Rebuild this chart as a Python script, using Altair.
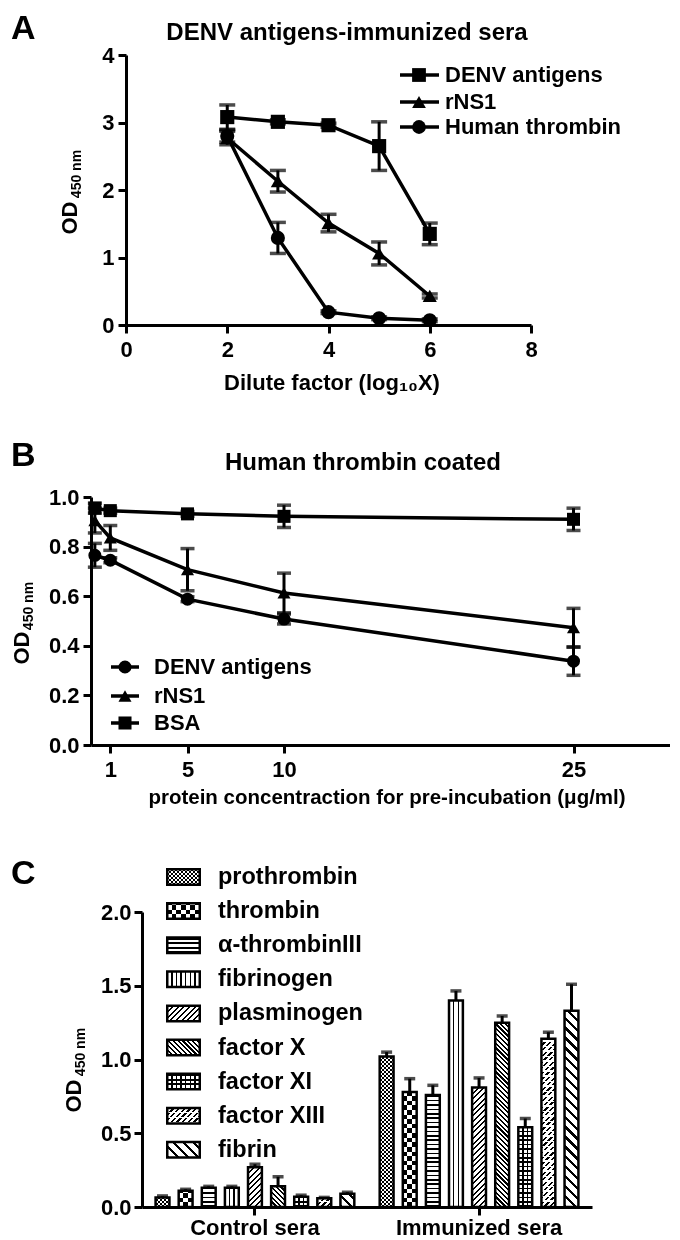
import altair as alt
import pandas as pd
import numpy as np

FONT = "Liberation Sans"

# ---------------- Panel A data ----------------
a_x = [2, 3, 4, 5, 6]
a_series = ["DENV antigens", "rNS1", "Human thrombin"]
a_shapes = ["square", "triangle-up", "circle"]
a_denv = [3.08, 3.01, 2.96, 2.65, 1.35]
a_denv_err = [0.18, 0.03, 0.03, 0.36, 0.16]
a_rns1 = [2.77, 2.13, 1.51, 1.06, 0.43]
a_rns1_err = [0.10, 0.16, 0.13, 0.17, 0.03]
a_thr = [2.80, 1.29, 0.19, 0.10, 0.07]
a_thr_err = [0.09, 0.23, 0.02, 0.02, 0.02]
a_xticks = [0, 2, 4, 6, 8]
a_yticks = [0, 1, 2, 3, 4]

# ---------------- Panel B data ----------------
b_x = [0.2, 1, 5, 10, 25]
b_series = ["DENV antigens", "rNS1", "BSA"]
b_shapes = ["circle", "triangle-up", "square"]
b_denv = [0.765, 0.745, 0.588, 0.508, 0.338]
b_denv_err = [0.048, 0.01, 0.01, 0.02, 0.057]
b_rns1 = [0.905, 0.835, 0.707, 0.613, 0.473]
b_rns1_err = [0.05, 0.05, 0.085, 0.08, 0.078]
b_bsa = [0.955, 0.945, 0.932, 0.922, 0.910]
b_bsa_err = [0.02, 0.01, 0.01, 0.045, 0.045]
b_xticks = [1, 5, 10, 25]
b_yticks = [0.0, 0.2, 0.4, 0.6, 0.8, 1.0]

# ---------------- Panel C data ----------------
c_groups = ["Control sera", "Immunized sera"]
c_proteins = ["prothrombin", "thrombin", "α-thrombinIII", "fibrinogen", "plasminogen",
              "factor X", "factor XI", "factor XIII", "fibrin"]
c_control = [0.065, 0.11, 0.13, 0.13, 0.27, 0.14, 0.07, 0.06, 0.09]
c_control_err = [0.01, 0.01, 0.01, 0.01, 0.02, 0.065, 0.01, 0.005, 0.01]
c_immune = [1.02, 0.78, 0.76, 1.40, 0.81, 1.25, 0.54, 1.14, 1.33]
c_immune_err = [0.03, 0.09, 0.065, 0.065, 0.065, 0.045, 0.06, 0.045, 0.18]
c_yticks = [0.0, 0.5, 1.0, 1.5, 2.0]

DUMMY = pd.DataFrame({"k": [0]})
PADW = 3  # width of the invisible left pad of each row


def long_df(xs, names, vals, errs):
    rows = []
    for si, (n, v, e) in enumerate(zip(names, vals, errs)):
        for x, vi, ei in zip(xs, v, e):
            rows.append({"x": x, "y": vi, "lo": vi - ei, "hi": vi + ei, "series": n, "sid": si})
    return pd.DataFrame(rows)


def ax(values=None, fmt=None, tick=8, pad=5, size=21):
    d = dict(title=None, tickSize=tick, labelPadding=pad, labelFontSize=size, labelFont=FONT,
             labelFontWeight="bold", labelColor="black", domainColor="black", domainWidth=3,
             tickColor="black", tickWidth=3, grid=False, labelFlush=False, labelOverlap=False,
             labelAngle=0)
    if values is not None:
        d["values"] = values
    if fmt:
        d["format"] = fmt
    return alt.Axis(**d)


def txt(s, x, y, size=21, align="center", baseline="middle", angle=0, weight="bold"):
    return alt.Chart(DUMMY).mark_text(text=s, font=FONT, fontSize=size, fontWeight=weight,
                                      align=align, baseline=baseline, angle=angle,
                                      color="black").encode(x=alt.value(x), y=alt.value(y))


def spacer(y):
    return alt.Chart(DUMMY).mark_rule(opacity=0, strokeWidth=0.5).encode(
        x=alt.value(0), x2=alt.value(2), y=alt.value(y))


def left_pad():
    return alt.Chart(DUMMY).mark_rule(opacity=0, strokeWidth=0.5).encode(
        x=alt.value(0), x2=alt.value(PADW), y=alt.value(0)).properties(width=PADW, height=1)


def legend_item(label, shape, xm, xl0, xl1, xt, y, size=190, fsize=22):
    seg = alt.Chart(DUMMY).mark_rule(color="black", strokeWidth=3.5).encode(
        x=alt.value(xl0), x2=alt.value(xl1), y=alt.value(y))
    pt = alt.Chart(DUMMY).mark_point(shape=shape, filled=True, opacity=1, color="black",
                                     size=size).encode(x=alt.value(xm), y=alt.value(y))
    return [seg, pt, txt(label, xt, y, size=fsize, align="left")]


def ytitle(x_od, y_od, x_sub, y_sub):
    return [txt("OD", x_od, y_od, size=22, angle=270),
            txt("450 nm", x_sub, y_sub, size=14, angle=270)]


def line_panel(df, shapes, xdom, xticks, ydom, yticks, yfmt, msize, capw):
    X = alt.X("x:Q", scale=alt.Scale(domain=xdom, nice=False, zero=False),
              axis=ax(xticks, tick=8, pad=6, size=22))

    def Y(f):
        return alt.Y(f, scale=alt.Scale(domain=ydom, nice=False),
                     axis=ax(yticks, fmt=yfmt, tick=8, pad=4, size=22))
    base = alt.Chart(df)
    out = [
        base.mark_line(color="black", strokeWidth=3.5).encode(x=X, y=Y("y:Q"), detail="series:N"),
        base.mark_rule(color="black", strokeWidth=3).encode(x=X, y=Y("lo:Q"), y2="hi:Q"),
        base.mark_tick(orient="horizontal", color="black", size=capw, thickness=3.5).encode(x=X, y=Y("hi:Q")),
        base.mark_tick(orient="horizontal", color="black", size=capw, thickness=3.5).encode(x=X, y=Y("lo:Q")),
    ]
    for si, shp in enumerate(shapes):
        out.append(base.transform_filter(alt.datum.sid == si)
                   .mark_point(shape=shp, filled=True, opacity=1, color="black", size=msize)
                   .encode(x=X, y=Y("y:Q")))
    return out


# ---------------- Panel A ----------------
WA, HA = 405, 270
dfa = long_df(a_x, a_series, [a_denv, a_rns1, a_thr], [a_denv_err, a_rns1_err, a_thr_err])
layersA = line_panel(dfa, a_shapes, [0, 8], a_xticks, [0, 4], a_yticks, "d", 200, 16)
for i, (lab, shp) in enumerate(zip(a_series, a_shapes)):
    layersA += legend_item(lab, shp, 293, 274, 313, 319, [20, 47, 72][i])
layersA += [txt("A", -(126 - 8 - PADW), -43, size=34, align="left", baseline="top"),
            txt("DENV antigens-immunized sera", 221, -22, size=24),
            txt("Dilute factor (log₁₀X)", 206, 328, size=22),
            spacer(-47), spacer(360)]
layersA += ytitle(-56, 163, -49, 119)
chartA = alt.layer(*layersA).properties(width=WA, height=HA)

# ---------------- Panel B ----------------
WB, HB = 579, 248
dfb = long_df(b_x, b_series, [b_denv, b_rns1, b_bsa], [b_denv_err, b_rns1_err, b_bsa_err])
layersB = line_panel(dfb, b_shapes, [0, 30], b_xticks, [0, 1], b_yticks, ".1f", 170, 14)
for i, (lab, shp) in enumerate(zip(b_series, b_shapes)):
    layersB += legend_item(lab, shp, 34, 20, 48, 63, [170, 199, 226][i], size=170)
layersB += [txt("B", -(91 - 8 - PADW), -58, size=34, align="left", baseline="top"),
            txt("Human thrombin coated", 272, -34, size=24),
            txt("protein concentraction for pre-incubation (μg/ml)", 296, 301, size=20.5),
            spacer(-82), spacer(338)]
layersB += ytitle(-69, 151, -62, 109)
chartB = alt.layer(*layersB).properties(width=WB, height=HB)

# ---------------- Panel C ----------------
WC, HC = 450, 295
XPI, XPO = 0.072, 0.04
OPI, OPO = 0.40, 0.20
step = WC / (2 - XPI + 2 * XPO)
band = step * (1 - XPI)
sub = band / (9 - OPI + 2 * OPO)
BW = sub * (1 - OPI)
PXU = HC / 2.0

rows = []
for gi, g in enumerate(c_groups):
    vals = c_control if gi == 0 else c_immune
    errs = c_control_err if gi == 0 else c_immune_err
    for pi, p in enumerate(c_proteins):
        rows.append({"group": g, "protein": p, "value": vals[pi], "hi": vals[pi] + errs[pi],
                     "bid": gi * 9 + pi})
dfc = pd.DataFrame(rows)

CLEAR = "rgba(0,0,0,0)"


def stripe_stops(T, duty, on, off, phase=0.0):
    s = []
    k = int(np.floor(-phase / T)) - 1
    while True:
        a = k * T + phase
        b = a + duty * T
        c = (k + 1) * T + phase
        for t0, t1, col in ((a, b, on), (b, c, off)):
            lo, hi = max(t0, 0.0), min(t1, 1.0)
            if hi > lo:
                s.append((lo, col))
                s.append((hi, col))
        if c >= 1.0:
            break
        k += 1
    return [{"offset": float(round(o, 5)), "color": col} for o, col in s]


def grad(kind, w, h, period, duty, on="black", off="white", phase_px=0.0):
    if kind == "v":
        g = dict(x1=0, y1=0, x2=1, y2=0)
        L = w
    elif kind == "h":
        g = dict(x1=0, y1=1, x2=0, y2=0)
        L = h
    elif kind == "/":
        k = (w + h) / (w * w + h * h)
        g = dict(x1=0, y1=0, x2=k * w, y2=k * h)
        L = (w + h) / np.sqrt(2)
    else:
        k = (w + h) / (w * w + h * h)
        g = dict(x1=0, y1=1, x2=k * w, y2=1 - k * h)
        L = (w + h) / np.sqrt(2)
    g = {kk: float(v) for kk, v in g.items()}
    g["gradient"] = "linear"
    g["stops"] = stripe_stops(period / L, duty, on, off, phase_px / L)
    return g


CELL = BW / 3.0


def pattern(name, w, h):
    if name == "prothrombin":
        c = 2.0
        return [(grad("h", w, h, 2 * c, 0.5), None),
                (grad("v", w, h, 2 * c, 0.5, on="white", off=CLEAR), "difference")]
    if name == "thrombin":
        return [(grad("h", w, h, 2 * CELL, 0.5), None),
                (grad("v", w, h, 2 * CELL, 0.5, on="white", off=CLEAR), "difference")]
    if name == "α-thrombinIII":
        return [(grad("h", w, h, 4.4, 0.38), None)]
    if name == "fibrinogen":
        return [(grad("v", w, h, CELL, 0.3, phase_px=CELL * 0.85), None)]
    if name == "plasminogen":
        return [(grad("/", w, h, 4.0, 0.35), None)]
    if name == "factor X":
        return [(grad("\\", w, h, 3.4, 0.45), None)]
    if name == "factor XI":
        return [(grad("v", w, h, CELL, 0.3, phase_px=CELL * 0.85), None),
                (grad("h", w, h, 4.4, 0.35, on="black", off=CLEAR), None)]
    if name == "factor XIII":
        return [(grad("/", w, h, 4.0, 0.4), None),
                (grad("h", w, h, 5.0, 0.3, on="white", off=CLEAR), None)]
    return [(grad("\\", w, h, 7.0, 0.33), None)]


XC = alt.X("group:N", scale=alt.Scale(domain=c_groups, paddingInner=XPI, paddingOuter=XPO, round=False),
           axis=ax(None, tick=8, pad=2, size=22))
XOC = alt.XOffset("protein:N", scale=alt.Scale(domain=c_proteins, paddingInner=OPI, paddingOuter=OPO, round=False))


def YC(f):
    return alt.Y(f, scale=alt.Scale(domain=[0, 2], nice=False),
                 axis=ax(c_yticks, fmt=".1f", tick=8, pad=3, size=22))


layersC = []
for i, r in dfc.iterrows():
    h = r["value"] * PXU
    for g, bl in pattern(r["protein"], BW, h):
        kw = dict(fill=g)
        if bl:
            kw["blend"] = bl
        layersC.append(alt.Chart(dfc).transform_filter(alt.datum.bid == int(r["bid"]))
                       .mark_bar(**kw).encode(x=XC, xOffset=XOC, y=YC("value:Q")))
layersC.append(alt.Chart(dfc).mark_bar(filled=False, color="black", strokeWidth=2.5)
               .encode(x=XC, xOffset=XOC, y=YC("value:Q")))
layersC.append(alt.Chart(dfc).mark_rule(color="black", strokeWidth=3)
               .encode(x=XC, xOffset=XOC, y=YC("value:Q"), y2="hi:Q"))
layersC.append(alt.Chart(dfc).mark_tick(orient="horizontal", color="black", size=11, thickness=3.5)
               .encode(x=XC, xOffset=XOC, y=YC("hi:Q")))

# legend of panel C
SW, SH = 32.5, 15.5
for i, p in enumerate(c_proteins):
    cy = -35 + 34.1 * i
    for g, bl in pattern(p, SW, SH):
        kw = dict(fill=g)
        if bl:
            kw["blend"] = bl
        layersC.append(alt.Chart(DUMMY).mark_rect(**kw).encode(
            x=alt.value(25.25), x2=alt.value(25.25 + SW), y=alt.value(cy - SH / 2), y2=alt.value(cy + SH / 2)))
    layersC.append(alt.Chart(DUMMY).mark_rect(filled=False, color="black", strokeWidth=2.5).encode(
        x=alt.value(25.25), x2=alt.value(25.25 + SW), y=alt.value(cy - SH / 2), y2=alt.value(cy + SH / 2)))
    layersC.append(txt(p, 76, cy, size=23.5, align="left"))

layersC += [txt("C", -(142 - 8 - PADW), -55, size=34, align="left", baseline="top"), spacer(-77)]
layersC += ytitle(-68, 184, -61, 140)
chartC = alt.layer(*layersC).properties(width=WC, height=HC)

rowA = alt.hconcat(left_pad(), chartA, spacing=0)
rowB = alt.hconcat(left_pad(), chartB, spacing=0)
rowC = alt.hconcat(left_pad(), chartC, spacing=0)

chart = alt.vconcat(rowA, rowB, rowC, spacing=0).properties(padding=0).configure_view(stroke=None)

chart.save("out.html", embed_options={"renderer": "svg", "actions": False})
